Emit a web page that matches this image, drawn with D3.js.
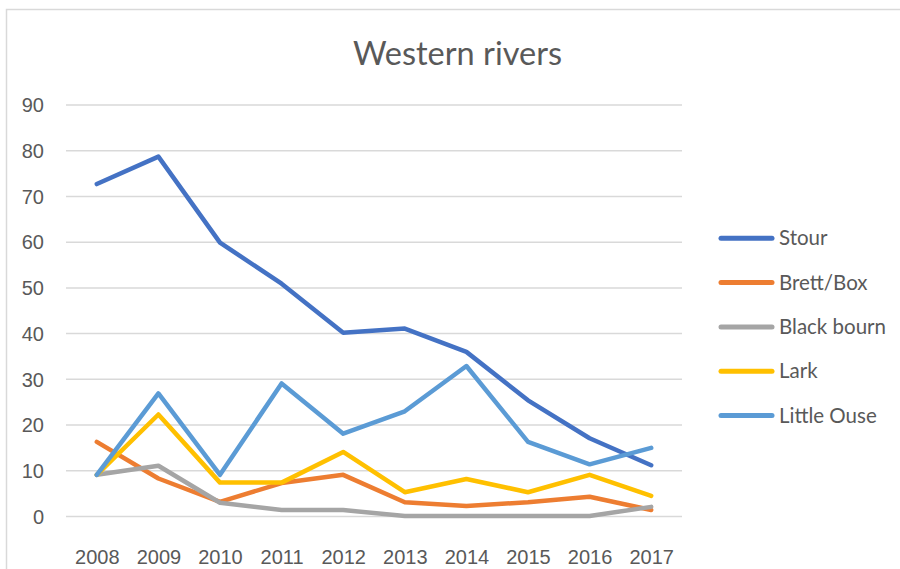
<!DOCTYPE html>
<html>
<head>
<meta charset="utf-8">
<script src="https://cdn.jsdelivr.net/npm/d3@7"></script>
<style>
  body { margin: 0; background: #fff; }
  svg { display: block; font-family: Lato, "Open Sans", sans-serif; }
  .axis path { display: none; }
  .axis text { fill: #595959; font-size: 20px; }
  .y.axis line { stroke: #d9d9d9; stroke-width: 1.5px; }
  .x.axis line { display: none; }
</style>
</head>
<body>
<svg id="chart"></svg>
<script>
// data
let years = ["2008", "2009", "2010", "2011", "2012", "2013", "2014", "2015", "2016", "2017"];
let yTicks = [0, 10, 20, 30, 40, 50, 60, 70, 80, 90];
let seriesNames = ["Stour", "Brett/Box", "Black bourn", "Lark", "Little Ouse"];
let seriesColors = ["#4472C4", "#ED7D31", "#A5A5A5", "#FFC000", "#5B9BD5"];

let stour = [72.6, 78.6, 59.8, 50.8, 40.1, 41, 35.9, 25.3, 17, 11.1];
let brettBox = [16.2, 8.2, 3.1, 7.2, 9, 3, 2.2, 3, 4.2, 1.3];
let blackBourn = [9, 11, 2.9, 1.3, 1.3, 0, 0, 0, 0, 2];
let lark = [9, 22.2, 7.3, 7.3, 14, 5.2, 8.1, 5.2, 9, 4.4];
let littleOuse = [9, 26.8, 9, 29, 18, 22.9, 32.8, 16.2, 11.3, 14.9];

let seriesValues = [stour, brettBox, blackBourn, lark, littleOuse];

// sizes
let widthSVG = 900;
let heightSVG = 569;
let margins = { top: 104.5, bottom: 53, right: 218, left: 66 };
let width = widthSVG - margins.left - margins.right;
let height = heightSVG - margins.top - margins.bottom;

let SVG = d3.select('svg#chart')
  .attr('width', widthSVG)
  .attr('height', heightSVG);

// chart border
SVG.append('rect')
  .attr('x', 6.5)
  .attr('y', 9.5)
  .attr('width', widthSVG)
  .attr('height', heightSVG)
  .style('fill', 'none')
  .style('stroke', '#d9d9d9')
  .style('stroke-width', '1.5px');

// title
SVG.append('text')
  .text('Western rivers')
  .attr('x', 457.5)
  .attr('y', 65)
  .style('text-anchor', 'middle')
  .style('font-size', '32.5px')
  .style('fill', '#595959');

let SVGG = SVG.append('g')
  .attr('transform', `translate(${margins.left}, ${margins.top})`);

// scales
let x = d3.scalePoint().domain(years).range([0, width]).padding(0.5);
let y = d3.scaleLinear().domain([0, 90]).range([height, 0]);

// gridlines + y labels
let yAxis = d3.axisLeft(y)
  .tickValues(yTicks)
  .tickSize(-width)
  .tickPadding(22);

SVGG.append('g')
  .attr('class', 'y axis')
  .call(yAxis)
  .selectAll('text')
  .attr('dy', '0.36em');

// x labels
let xAxis = d3.axisBottom(x).tickSize(0).tickPadding(34);

SVGG.append('g')
  .attr('class', 'x axis')
  .attr('transform', `translate(0, ${height})`)
  .call(xAxis);

// lines
let line = d3.line()
  .x((d, i) => x(years[i]))
  .y(d => y(d));

SVGG.selectAll('path.series')
  .data(seriesValues)
  .enter()
  .append('path')
  .attr('class', 'series')
  .attr('d', d => line(d))
  .style('fill', 'none')
  .style('stroke', (d, i) => seriesColors[i])
  .style('stroke-width', '4.5px')
  .style('stroke-linejoin', 'round')
  .style('stroke-linecap', 'round');

// legend
let legendGs = SVG.selectAll('g.legendItem')
  .data(seriesNames)
  .enter()
  .append('g')
  .attr('class', 'legendItem')
  .attr('transform', (d, i) => `translate(721, ${238.3 + i * 44.3})`);

legendGs.append('line')
  .attr('x1', 0)
  .attr('x2', 51)
  .style('stroke', (d, i) => seriesColors[i])
  .style('stroke-width', '5px')
  .style('stroke-linecap', 'round');

legendGs.append('text')
  .text(d => d)
  .attr('x', 58)
  .attr('y', 7)
  .style('font-size', '20.5px')
  .style('fill', '#595959');
</script>
</body>
</html>
